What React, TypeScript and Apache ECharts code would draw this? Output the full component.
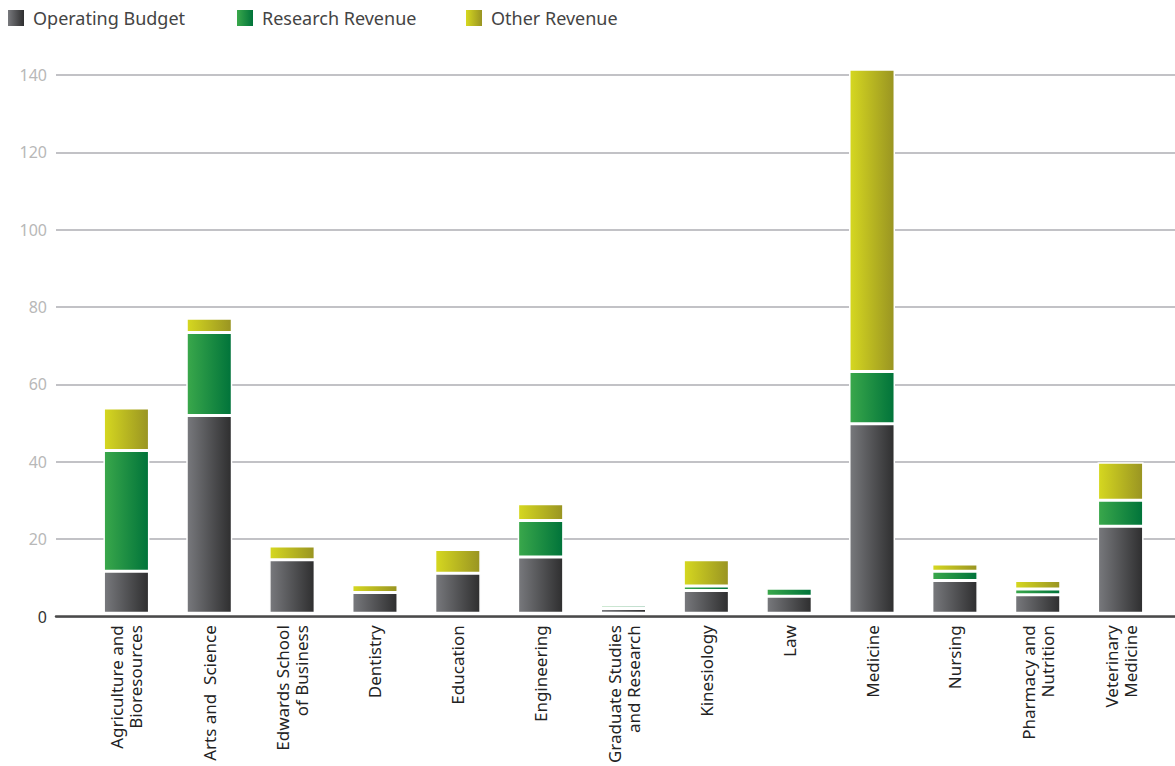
import React, { useEffect, useRef } from "react";
import * as echarts from "echarts";

const categories = [
  "Agriculture and\nBioresources",
  "Arts and  Science",
  "Edwards School\nof Business",
  "Dentistry",
  "Education",
  "Engineering",
  "Graduate Studies\nand Research",
  "Kinesiology",
  "Law",
  "Medicine",
  "Nursing",
  "Pharmacy and\nNutrition",
  "Veterinary\nMedicine",
];

const operatingBudget = [10.9, 51.4, 13.9, 5.4, 10.4, 14.6, 1.2, 5.9, 4.4, 49.3, 8.5, 4.8, 22.6];
const researchRevenue = [31.4, 21.6, 0, 0, 0, 9.5, 0.9, 1.2, 2.1, 13.6, 2.4, 1.5, 6.8];
const otherRevenue = [11.1, 3.7, 3.6, 2.0, 6.2, 4.4, 0, 6.8, 0, 78.6, 1.9, 2.2, 9.9];

const yTicks = { min: 0, max: 140, interval: 20 };

const grad = (a: string, b: string) =>
  new echarts.graphic.LinearGradient(0, 0, 1, 0, [
    { offset: 0, color: a },
    { offset: 1, color: b },
  ]);

const FONT = "'Noto Sans', sans-serif";

export default function App() {
  const ref = useRef<HTMLDivElement>(null);
  useEffect(() => {
    if (!ref.current) return;
    const chart = echarts.init(ref.current, null, { renderer: "svg" });
    const gridTop = 75;
    const gridBottom = 149.5;
    const barStyle = (a: string, b: string) => ({
      color: grad(a, b),
      borderColor: "#ffffff",
      borderWidth: 1.5,
    });
    const mkSeries = (name: string, data: number[], a: string, b: string) => ({
      name,
      type: "bar",
      stack: "total",
      xAxisIndex: 1,
      yAxisIndex: 1,
      barWidth: 46,
      clip: false,
      data,
      itemStyle: barStyle(a, b),
      emphasis: { disabled: true },
    });
    const legendBase = {
      top: 4,
      icon: "rect",
      itemWidth: 16,
      itemHeight: 16,
      itemStyle: { borderWidth: 0 },
      textStyle: { fontSize: 18, color: "#444", fontFamily: FONT, padding: [0, 0, 0, 4] },
      selectedMode: false,
    };
    chart.setOption({
      animation: false,
      textStyle: { fontFamily: FONT },
      legend: [
        { ...legendBase, left: 3, data: ["Operating Budget"] },
        { ...legendBase, left: 232, data: ["Research Revenue"] },
        { ...legendBase, left: 461, data: ["Other Revenue"] },
      ],
      grid: [
        { left: 56, right: 0, top: gridTop, bottom: gridBottom },
        { left: 85, right: 13, top: gridTop, bottom: gridBottom },
      ],
      xAxis: [
        {
          type: "value",
          gridIndex: 0,
          min: 0,
          max: 1,
          axisLine: { show: true, onZero: false, lineStyle: { color: "#4a4a4a", width: 2.5 } },
          axisTick: { show: false },
          axisLabel: { show: false },
          splitLine: { show: false },
        },
        {
          type: "category",
          gridIndex: 1,
          data: categories,
          axisLine: { show: false },
          axisTick: { show: false },
          axisLabel: {
            interval: 0,
            rotate: 90,
            margin: 12,
            fontSize: 17,
            lineHeight: 19,
            color: "#222",
            fontFamily: FONT,
          },
        },
      ],
      yAxis: [
        {
          type: "value",
          gridIndex: 0,
          ...yTicks,
          axisLine: { show: false },
          axisTick: { show: false },
          axisLabel: {
            margin: 9,
            fontSize: 16,
            fontFamily: FONT,
            color: (v: any) => (Number(v) === 0 ? "#333" : "#b8b8b8"),
          },
          splitLine: { show: true, lineStyle: { color: "#c2c2c6", width: 2 } },
        },
        {
          type: "value",
          gridIndex: 1,
          ...yTicks,
          show: false,
          splitLine: { show: false },
        },
      ],
      series: [
        mkSeries("Operating Budget", operatingBudget, "#78797d", "#2e2e2f"),
        mkSeries("Research Revenue", researchRevenue, "#3aa84b", "#00733a"),
        mkSeries("Other Revenue", otherRevenue, "#d6d820", "#999422"),
      ],
    });
    return () => chart.dispose();
  }, []);
  return <div ref={ref} style={{ width: 1175, height: 766, position: "absolute", left: 0, top: 0 }} />;
}
